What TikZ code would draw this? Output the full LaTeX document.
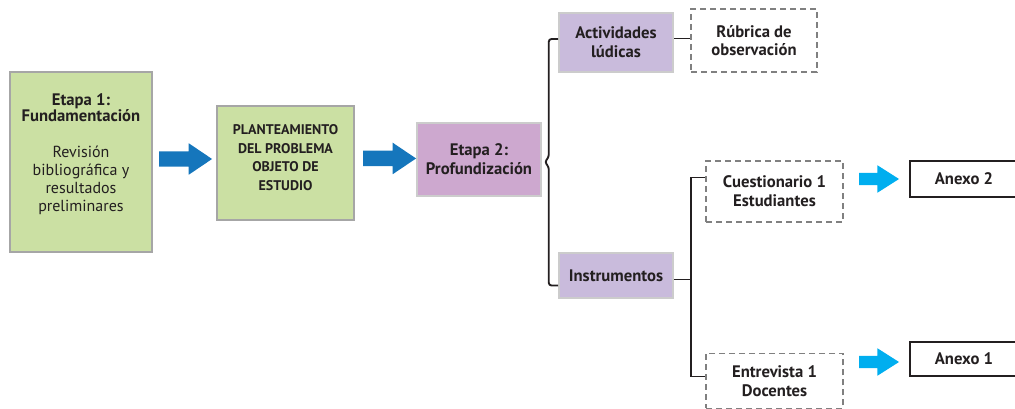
\documentclass[tikz,border=0pt]{standalone}
\usepackage{fontspec}
\setmainfont{PT Sans}
\usetikzlibrary{shapes.arrows,calc}
\definecolor{tinta}{HTML}{231F20}
\definecolor{verdeclaro}{HTML}{CBE0A3}
\definecolor{malva}{HTML}{CDA8CF}
\definecolor{lila}{HTML}{C9BBDC}
\definecolor{azul}{HTML}{1576BC}
\definecolor{celeste}{HTML}{00AEEF}
\begin{document}
\begin{tikzpicture}[x=0.75pt,y=-0.75pt,
  every node/.style={text=tinta,align=center,inner sep=0pt,font=\fontsize{12.5}{14}\selectfont\bfseries},
  etapauno/.style={draw=black!35,line width=1.2pt,fill=verdeclaro},
  etapados/.style={draw=black!20,line width=1.2pt,fill=malva},
  rama/.style={draw=black!20,line width=1.2pt,fill=lila},
  punteado/.style={draw=black!50,line width=1.1pt,dash pattern=on 4.5pt off 3pt},
  anexo/.style={draw=tinta,line width=1.5pt,minimum width=81pt},
  conn/.style={draw=tinta,line width=1.4pt},
  flecha/.style={single arrow,anchor=tail,fill=azul,minimum height=39.75pt,inner sep=5.6pt,
    single arrow head extend=6pt,single arrow tip angle=68},
  flechita/.style={single arrow,anchor=tail,fill=celeste,minimum height=30pt,inner sep=4.4pt,
    single arrow head extend=5.7pt,single arrow tip angle=65}]
\useasboundingbox (0,0) rectangle (1015,409);
\node[etapauno,minimum width=106.5pt,minimum height=135pt,font=\fontsize{12}{13.5}\selectfont] (e1) at (81,162)
  {{\fontsize{12.5}{13}\selectfont\bfseries Etapa 1:}\\[-2pt]{\fontsize{12.5}{13}\selectfont\bfseries Fundamentación}\\[14pt]Revisión\\bibliográfica y\\resultados\\preliminares\\\mbox{}};
\node[etapauno,minimum width=102.75pt,minimum height=85.5pt,font=\fontsize{10.5}{14}\selectfont\bfseries] (pl) at (285.5,163)
  {PLANTEAMIENTO\\DEL PROBLEMA\\OBJETO DE\\ESTUDIO\\[-6pt]\mbox{}};
\node[etapados,minimum width=93pt,minimum height=54.75pt] (e2) at (479,159.5) {Etapa 2:\\Profundización};
\node[rama,minimum width=85.5pt,minimum height=44.25pt] (act) at (616,42.5) {Actividades\\lúdicas};
\node[rama,minimum width=85.5pt,minimum height=33.75pt] (ins) at (616,275.5) {Instrumentos};
\node[punteado,minimum width=94.5pt,minimum height=47.25pt] (rub) at (754,40.5) {Rúbrica de\\observación};
\node[punteado,minimum width=102.75pt,minimum height=45.75pt] (cue) at (774.5,191.5) {Cuestionario 1\\Estudiantes};
\node[punteado,minimum width=102.75pt,minimum height=41.25pt] (ent) at (774.5,381) {Entrevista 1\\Docentes};
\node[anexo,minimum height=27pt] (anx2) at (964,179) {Anexo 2};
\node[anexo,minimum height=25.5pt] (anx1) at (964,359) {Anexo 1};
\node[flecha] (f1) at ([xshift=4.5pt,yshift=2.25pt]e1.east) {};
\node[flecha] (f2) at ([xshift=6pt,yshift=3.4pt]pl.east) {};
\node[flechita] (f3) at ([xshift=11.25pt]cue.east |- anx2.west) {};
\node[flechita] (f4) at ([xshift=11.25pt,yshift=-2.25pt]ent.east |- anx1.west) {};
\coordinate (llave) at ([xshift=2.25pt,yshift=-1.9pt]e2.east);
\draw[conn,rounded corners=2pt] ([yshift=2.6pt]act.west) -| ($(llave)+(4,-5)$) -- (llave)
  -- ($(llave)+(4,5)$) |- ([yshift=-7.5pt]ins.west);
\draw[conn] ([yshift=3pt]act.east) -- ([yshift=3pt]act.east -| rub.west);
\coordinate (nudo) at ([xshift=12.75pt,yshift=-3pt]ins.east);
\draw[conn] ([yshift=-3pt]ins.east) -- (nudo);
\draw[conn] ([yshift=10.5pt]cue.west) -| (nudo) |- ([yshift=3.4pt]ent.west);
\end{tikzpicture}
\end{document}
